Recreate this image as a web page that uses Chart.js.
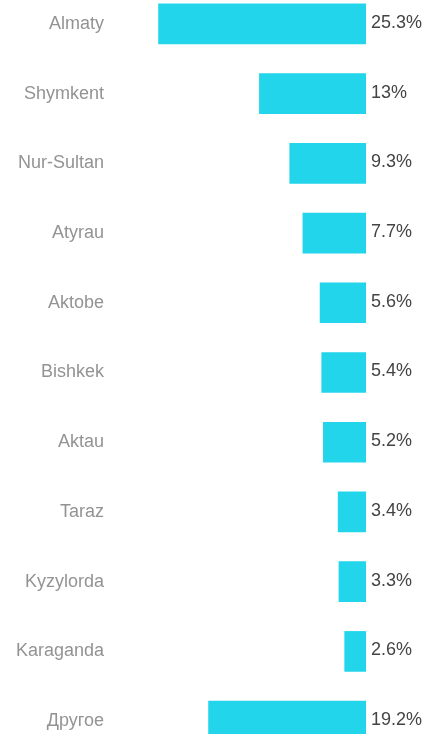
<!DOCTYPE html>
<html>
<head>
<meta charset="utf-8">
<script src="https://cdn.jsdelivr.net/npm/chart.js@4"></script>
<style>
  html, body { margin: 0; padding: 0; background: #fff; overflow: hidden; }
  #wrap { position: absolute; left: 0; top: -11px; width: 427px; height: 767px; }
</style>
</head>
<body>
<div id="wrap"><canvas id="canvas" width="427" height="767"></canvas></div>
<script>
var cities = ['Almaty', 'Shymkent', 'Nur-Sultan', 'Atyrau', 'Aktobe', 'Bishkek', 'Aktau', 'Taraz', 'Kyzylorda', 'Karaganda', 'Другое'];
var shares = [25.3, 13, 9.3, 7.7, 5.6, 5.4, 5.2, 3.4, 3.3, 2.6, 19.2];

// percent text to the right of each bar's base
var valueLabels = {
    id: 'valueLabels',
    afterDatasetsDraw: function(chart) {
        var ctx = chart.ctx;
        var meta = chart.getDatasetMeta(0);
        ctx.save();
        ctx.font = '18px "Liberation Sans", Arial, sans-serif';
        ctx.fillStyle = '#444444';
        ctx.textAlign = 'left';
        ctx.textBaseline = 'middle';
        meta.data.forEach(function(bar, i) {
            ctx.fillText(shares[i] + '%', bar.base + 5, bar.y - 1);
        });
        ctx.restore();
    }
};

var config = {
    type: 'bar',
    data: {
        labels: cities,
        datasets: [{
            data: shares,
            backgroundColor: '#23d5eb',
            borderWidth: 0,
            barThickness: 40
        }]
    },
    options: {
        indexAxis: 'y',
        responsive: false,
        animation: false,
        layout: { padding: { left: 0, right: 61, top: 0, bottom: 0 } },
        plugins: {
            legend: { display: false },
            tooltip: { enabled: false }
        },
        scales: {
            x: {
                display: false,
                reverse: true,
                min: 0,
                max: 30
            },
            y: {
                grid: { display: false, drawTicks: false },
                border: { display: false },
                ticks: {
                    padding: 16,
                    color: '#939393',
                    font: { family: '"Liberation Sans", Arial, sans-serif', size: 18 }
                },
                afterFit: function(scale) {
                    scale.width = 120;
                    scale.paddingTop = 0;
                    scale.paddingBottom = 0;
                }
            }
        }
    },
    plugins: [valueLabels]
};

window.onload = function() {
    var ctx = document.getElementById('canvas').getContext('2d');
    window.myBar = new Chart(ctx, config);
};
</script>
</body>
</html>
